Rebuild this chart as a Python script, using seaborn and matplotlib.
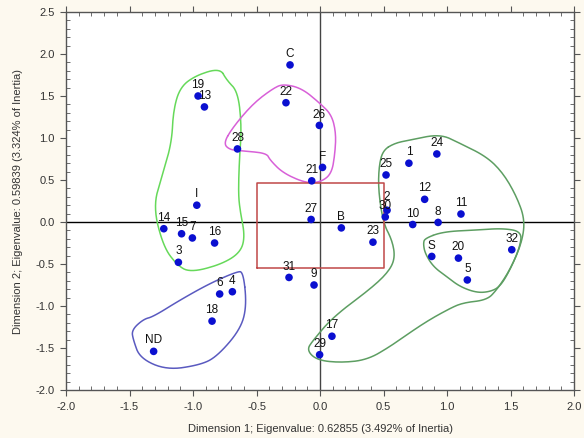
import numpy as np
import pandas as pd
import matplotlib
matplotlib.use("Agg")
import matplotlib.pyplot as plt
import seaborn as sns
from matplotlib.ticker import MultipleLocator

# ---- data ----
point_labels = ["C", "19", "13", "22", "26", "28", "F", "21", "I", "14", "15", "7",
                "16", "3", "27", "B", "23", "30", "2", "31", "9", "25", "1", "24",
                "12", "11", "10", "8", "S", "20", "5", "32", "6", "4", "18", "ND",
                "17", "29"]
dim1 = [-0.236, -0.96, -0.91, -0.268, -0.005, -0.65, 0.02, -0.065, -0.97, -1.23,
        -1.09, -1.005, -0.83, -1.115, -0.07, 0.168, 0.417, 0.514, 0.528, -0.244,
        -0.047, 0.52, 0.70, 0.92, 0.824, 1.11, 0.73, 0.93, 0.88, 1.09, 1.16, 1.51,
        -0.79, -0.69, -0.85, -1.31, 0.094, -0.003]
dim2 = [1.87, 1.50, 1.37, 1.42, 1.15, 0.87, 0.65, 0.49, 0.20, -0.08,
        -0.14, -0.19, -0.25, -0.48, 0.03, -0.07, -0.24, 0.06, 0.14, -0.66,
        -0.75, 0.56, 0.70, 0.81, 0.27, 0.095, -0.03, -0.005, -0.41, -0.43, -0.69, -0.33,
        -0.857, -0.83, -1.18, -1.54, -1.36, -1.58]

# hand-drawn group outlines (data coordinates)
left_green_x = [-0.787, -0.735, -0.646, -0.617, -0.635, -0.643, -0.63, -0.59, -0.63, -0.787,
                -1.024, -1.128, -1.234, -1.313, -1.246, -1.168, -1.155, -1.10, -0.97]
left_green_y = [1.83, 1.69, 1.55, 1.13, 0.74, 0.345, 0.14, -0.175, -0.37, -0.51,
                -0.60, -0.51, -0.29, 0.18, 0.54, 0.94, 1.33, 1.61, 1.75]
magenta_x = [-0.761, -0.683, -0.525, -0.368, -0.289, -0.144, 0.0, 0.092, 0.126, 0.118,
             0.092, 0.013, -0.105, -0.289, -0.394, -0.42, -0.59, -0.709]
magenta_y = [0.937, 1.134, 1.413, 1.592, 1.643, 1.592, 1.413, 1.274, 1.056, 0.818,
             0.58, 0.48, 0.46, 0.58, 0.738, 0.818, 0.845, 0.857]
blue_x = [-0.604, -0.577, -0.63, -0.813, -0.945, -1.207, -1.417, -1.47, -1.483, -1.391,
          -1.313, -1.102, -0.866, -0.656]
blue_y = [-0.592, -1.008, -1.286, -1.604, -1.702, -1.762, -1.623, -1.405, -1.286, -1.158,
          -1.127, -0.929, -0.73, -0.592]
big_green_x = [0.498, 0.591, 0.709, 0.945, 1.102, 1.313, 1.443, 1.549, 1.614, 1.588,
               1.496, 1.391, 1.313, 1.128, 1.024, 0.813, 0.551, 0.368, 0.157, -0.026,
               -0.105, -0.053, 0.105, 0.42, 0.551, 0.591, 0.567, 0.498, 0.459, 0.465]
big_green_y = [0.857, 0.94, 0.976, 1.048, 0.937, 0.777, 0.58, 0.301, 0.024, -0.254,
               -0.571, -0.81, -0.929, -0.961, -1.027, -1.206, -1.485, -1.643, -1.675, -1.643,
               -1.524, -1.405, -1.127, -0.77, -0.571, -0.413, -0.214, -0.012, 0.381, 0.679]
small_green_x = [0.827, 0.971, 1.234, 1.443, 1.588, 1.575, 1.496, 1.417, 1.339, 1.234,
                 1.102, 0.998, 0.892, 0.827, 0.813]
small_green_y = [-0.194, -0.115, -0.095, -0.075, -0.115, -0.294, -0.571, -0.77, -0.83, -0.842,
                 -0.77, -0.651, -0.532, -0.373, -0.254]
rect_x = [-0.5, 0.5]
rect_y = [-0.55, 0.46]

x_title = "Dimension 1; Eigenvalue: 0.62855 (3.492% of Inertia)"
y_title = "Dimension 2; Eigenvalue: 0.59839 (3.324% of Inertia)"

# ---- style ----
sns.set_theme(style="white")
plt.rcParams["font.family"] = ["Liberation Sans", "DejaVu Sans"]

fig = plt.figure(figsize=(5.84, 4.38), dpi=100)
fig.patch.set_facecolor("#fdf9ef")
ax = fig.add_axes([66 / 584, 48 / 438, 508 / 584, 378 / 438])
ax.set_facecolor("white")

df = pd.DataFrame({"d1": dim1, "d2": dim2, "lab": point_labels})


def chaikin(xs, ys, n=3):
    pts = np.column_stack([xs, ys])
    for _ in range(n):
        nxt = np.roll(pts, -1, axis=0)
        q = 0.75 * pts + 0.25 * nxt
        r = 0.25 * pts + 0.75 * nxt
        pts = np.empty((2 * len(q), 2))
        pts[0::2] = q
        pts[1::2] = r
    pts = np.vstack([pts, pts[:1]])
    return pts[:, 0], pts[:, 1]


for xs, ys, col in [(left_green_x, left_green_y, "#66d95a"),
                    (magenta_x, magenta_y, "#d860d8"),
                    (blue_x, blue_y, "#5a5ac0"),
                    (big_green_x, big_green_y, "#5d9e62"),
                    (small_green_x, small_green_y, "#5d9e62")]:
    sx, sy = chaikin(xs, ys)
    ax.plot(sx, sy, color=col, lw=1.1, zorder=2)

ax.plot([rect_x[0], rect_x[1], rect_x[1], rect_x[0], rect_x[0]],
        [rect_y[0], rect_y[0], rect_y[1], rect_y[1], rect_y[0]],
        color="#c04848", lw=1.1, zorder=2)

ax.axhline(0, color="black", lw=1.0, zorder=1)
ax.axvline(0, color="#444444", lw=1.0, zorder=1)

sns.scatterplot(data=df, x="d1", y="d2", ax=ax, color="#0a0fd0", s=30,
                edgecolor="none", zorder=3, legend=False)

for lab, x, y in zip(point_labels, dim1, dim2):
    dy = 5.5 if lab == "2" else 3.5
    ax.annotate(lab, (x, y), xytext=(0, dy), textcoords="offset points",
                ha="center", va="bottom", fontsize=8.5, color="#111111", zorder=4)

ax.set_xlim(-2.0, 2.0)
ax.set_ylim(-2.0, 2.5)
ax.xaxis.set_major_locator(MultipleLocator(0.5))
ax.yaxis.set_major_locator(MultipleLocator(0.5))
ax.xaxis.set_minor_locator(MultipleLocator(0.1))
ax.yaxis.set_minor_locator(MultipleLocator(0.1))
ax.xaxis.set_major_formatter(matplotlib.ticker.FormatStrFormatter("%.1f"))
ax.yaxis.set_major_formatter(matplotlib.ticker.FormatStrFormatter("%.1f"))

ax.tick_params(which="major", direction="out", length=4, width=0.8, color="#555555",
               labelsize=8, labelcolor="#333333", pad=4,
               bottom=True, left=True, top=False, right=False)
ax.tick_params(which="minor", direction="in", length=3, width=0.6, color="#555555",
               bottom=True, left=True, top=True, right=True)
ax.tick_params(axis="both", which="major", top=True, right=True)
ax.tick_params(axis="x", which="major", pad=5)

for sp in ax.spines.values():
    sp.set_color("#555555")
    sp.set_linewidth(1.0)

ax.set_xlabel(x_title, fontsize=8, color="#333333", labelpad=8)
ax.set_ylabel(y_title, fontsize=8, color="#333333", labelpad=9)

fig.savefig("out.png", dpi=100, facecolor=fig.get_facecolor())
